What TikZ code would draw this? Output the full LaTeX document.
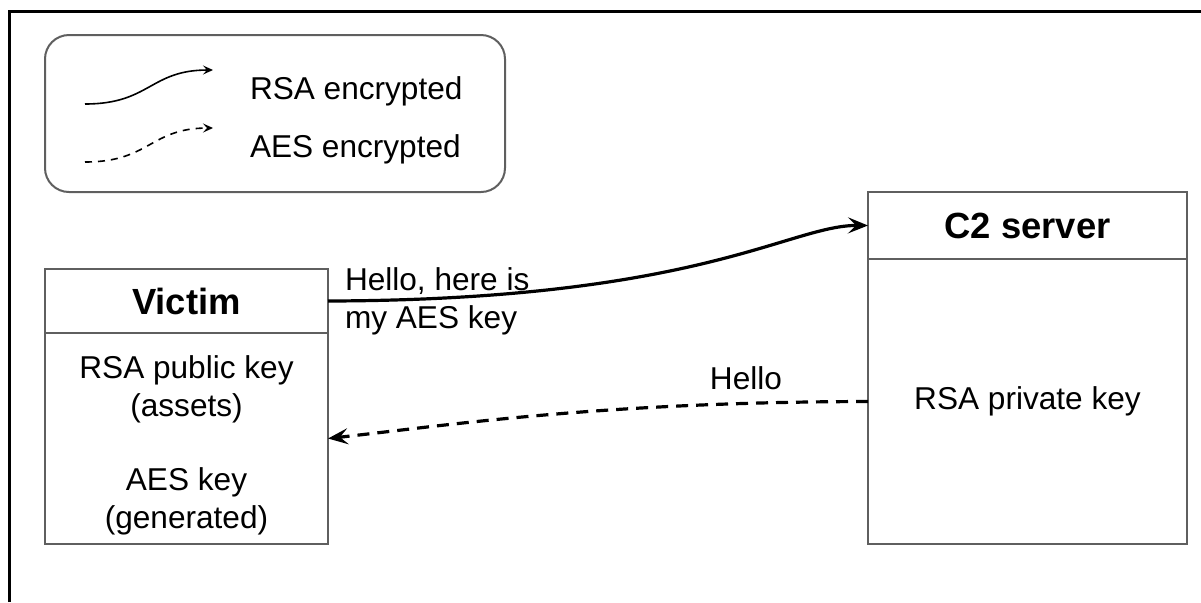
\documentclass[tikz,border=0pt]{standalone}
\usepackage{fontspec}
\setmainfont{Liberation Sans}
\usetikzlibrary{arrows.meta,positioning}
\definecolor{framegray}{HTML}{5F5F5F}

\begin{document}
\begin{tikzpicture}[x=0.5pt, y=-0.5pt, font=\fontsize{15.8}{19}\selectfont,
  every node/.style={inner sep=0pt, outer sep=0pt},
  head/.style={draw=framegray, line width=1pt, font=\fontsize{18.2}{22}\selectfont\bfseries},
  body/.style={draw=framegray, line width=1pt, align=center},
  rsa/.style={line width=1.6pt, -{Stealth[length=10pt, width=8pt, inset=4pt]}},
  aes/.style={rsa, dash pattern=on 6pt off 4pt},
  keyrsa/.style={line width=0.8pt, -{Stealth[length=5pt, width=4.5pt, inset=2pt]}},
  keyaes/.style={keyrsa, dash pattern=on 3.5pt off 3pt}]
\useasboundingbox (0,0) rectangle (1201,602);
\draw[line width=1.5pt] (9.5,602) -- (9.5,11.5) -- (1201,11.5);

\node[draw=framegray, line width=1pt, rounded corners=12pt, minimum width=230pt, minimum height=78.5pt] (legend) at (275,113.5) {};
\coordinate (rsafrom) at (85,104);
\coordinate (rsato) at (213,70);
\coordinate (aesfrom) at (85,162);
\coordinate (aesto) at (213,128);
\draw[keyrsa] (rsafrom) .. controls (150,104) and (150,70) .. (rsato);
\draw[keyaes] (aesfrom) .. controls (150,162) and (150,128) .. (aesto);
\node[anchor=west] (rsalabel) at (250,91) {RSA encrypted};
\node[anchor=west] (aeslabel) at (250,149) {AES encrypted};

\node[head, minimum width=141.5pt, minimum height=32pt] (victim) at (186.5,301) {Victim};
\node[body, below=0pt of victim, minimum width=141.5pt, minimum height=105.5pt] (victimkeys) {\rule{0pt}{18.5pt}RSA public key\\(assets)\\[18pt]AES key\\(generated)};
\node[head, minimum width=159.5pt, minimum height=33.5pt] (c2) at (1027.5,225.5) {C2 server};
\node[body, below=0pt of c2, minimum width=159.5pt, minimum height=142.5pt] (c2keys) {RSA private key};

\draw[rsa] (victim.east) .. controls (700,300) and (790,225) .. (c2.west);
\draw[aes] (c2keys.west) .. controls (600,402) and (450,425) .. (victimkeys.east);
\node[right=8.5pt of victim.east, align=left] (keymsg) {Hello, here is\\my AES key};
\node[anchor=base east] (hellomsg) at (782,389) {Hello};
\end{tikzpicture}
\end{document}
